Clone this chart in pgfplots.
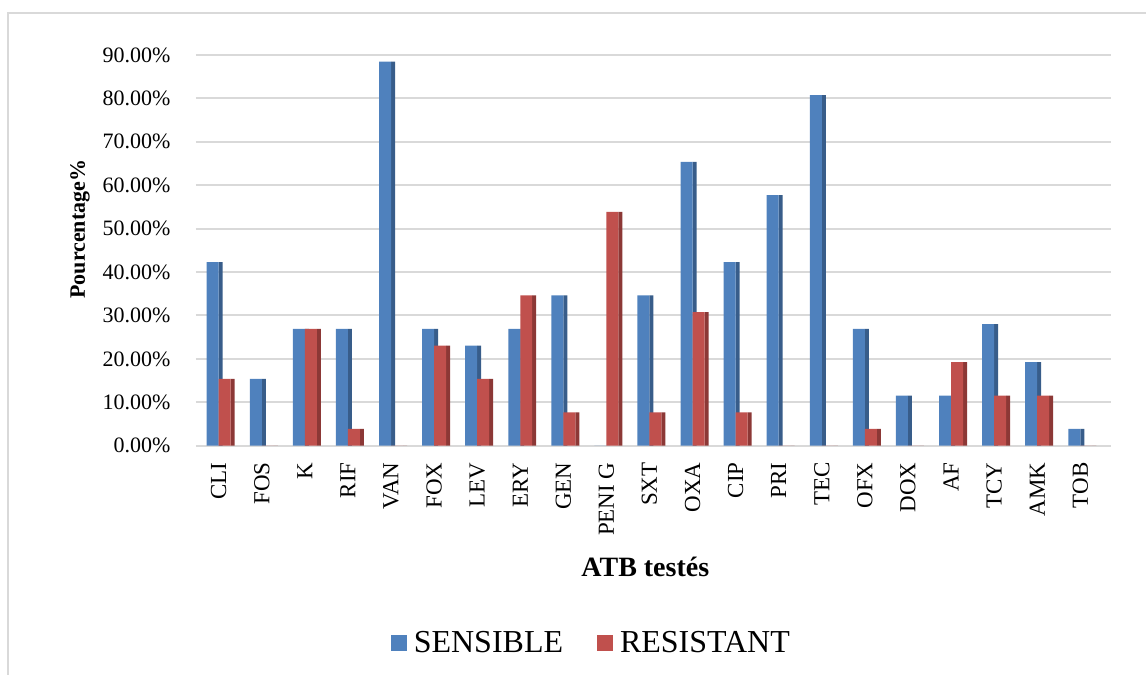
\documentclass[border=0pt]{standalone}
\usepackage{fontspec}
\setmainfont{Liberation Serif}
\usepackage{pgfplots}
\usepackage{pgfplotstable}
\pgfplotsset{compat=1.18}

\definecolor{sens}{HTML}{4F81BD}
\definecolor{sensdark}{HTML}{385D8A}
\definecolor{res}{HTML}{C0504D}
\definecolor{resdark}{HTML}{8C3836}
\definecolor{gridgray}{HTML}{D9D9D9}

% idx  sensible  resistant (%)
\pgfplotstableread{
idx sens res
0  42.31 15.38
1  15.38 0
2  26.92 26.92
3  26.92 3.85
4  88.46 0
5  26.92 23.08
6  23.08 15.38
7  26.92 34.62
8  34.62 7.69
9  0     53.85
10 34.62 7.69
11 65.38 30.77
12 42.31 7.69
13 57.69 0
14 80.77 0
15 26.92 3.85
16 11.54 0
17 11.54 19.23
18 28.00 11.54
19 19.23 11.54
20 3.85  0
}\atbdata

\begin{document}
\begin{tikzpicture}
% page frame (image 1147x675, origin bottom left)
\path (0pt,0pt) rectangle (1147pt,675pt);
\draw[gridgray, line width=1.5pt] (8pt,0pt) -- (8pt,662pt) -- (1147pt,662pt);

\begin{axis}[
    at={(196pt,229pt)}, anchor=south west,
    scale only axis,
    width=916pt, height=391pt,
    xmin=-0.53, xmax=20.72,
    ymin=0, ymax=90,
    axis line style={draw=none},
    tick style={draw=none},
    ymajorgrids,
    grid style={gridgray, line width=2pt},
    ytick={0,10,...,90},
    yticklabels={0.00\%,10.00\%,20.00\%,30.00\%,40.00\%,50.00\%,60.00\%,70.00\%,80.00\%,90.00\%},
    yticklabel style={font=\fontsize{22}{24}\selectfont, xshift=-22pt},
    xtick={0,...,20},
    xticklabels={CLI,FOS,K,RIF,VAN,FOX,LEV,ERY,GEN,{PENI G},SXT,OXA,CIP,PRI,TEC,OFX,DOX,AF,TCY,AMK,TOB},
    xticklabel style={font=\fontsize{23}{25}\selectfont, rotate=90, anchor=east, xshift=-9pt, yshift=0pt},
    xlabel={\bfseries ATB testés},
    xlabel style={font=\fontsize{28}{30}\selectfont, at={(axis description cs:0.491,-0.309)}, anchor=center},
    ylabel={\bfseries Pourcentage\%},
    ylabel style={font=\fontsize{22}{24}\selectfont, at={(axis description cs:-0.1266,0.554)}, anchor=center},
    ybar=0pt,
    bar width=12pt,
    legend columns=2,
    legend style={draw=none, fill=none, font=\fontsize{32}{34}\selectfont,
        at={(axis description cs:0.432,-0.504)}, anchor=center,
        /tikz/every even column/.append style={column sep=32pt}},
    legend image code/.code={\fill[#1] (-8pt,-8pt) rectangle (8pt,8pt);},
]
% side faces (drawn first, covered by the front faces)
\addplot[fill=sensdark, draw=none, bar width=4pt, bar shift=2pt, forget plot] table[x=idx, y=sens] {\atbdata};
\addplot[fill=sens, draw=none, bar shift=-6pt] table[x=idx, y=sens] {\atbdata};
\addlegendentry{\hspace{5pt}SENSIBLE}
\addplot[fill=resdark, draw=none, bar width=4pt, bar shift=14pt, forget plot] table[x=idx, y=res] {\atbdata};
\addplot[fill=res, draw=none, bar shift=6pt] table[x=idx, y=res] {\atbdata};
\addlegendentry{\hspace{5pt}RESISTANT}
\end{axis}
\end{tikzpicture}
\end{document}
